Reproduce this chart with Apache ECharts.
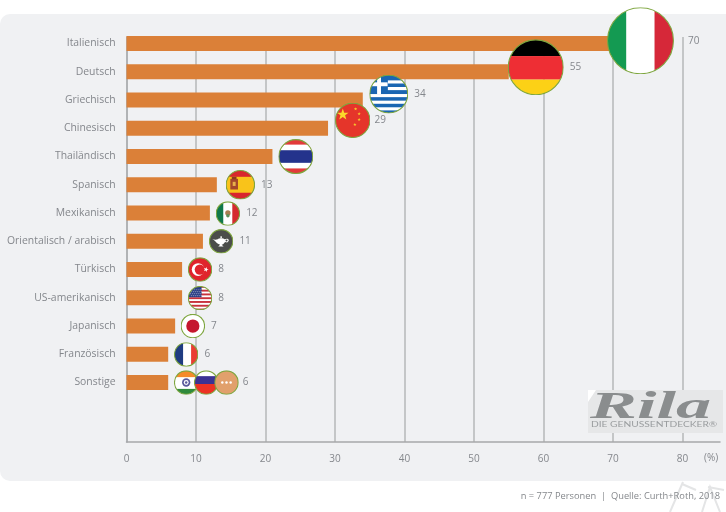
<!DOCTYPE html>
<html>
<head>
<meta charset="utf-8">
<style>html,body{margin:0;padding:0;background:#fff}#c{width:726px;height:512px}</style>
<script src="https://cdn.jsdelivr.net/npm/echarts@6/dist/echarts.min.js"></script>
</head>
<body>
<div id="c"></div>
<script>
const categories = ['Italienisch','Deutsch','Griechisch','Chinesisch','Thailändisch','Spanisch','Mexikanisch','Orientalisch / arabisch','Türkisch','US-amerikanisch','Japanisch','Französisch','Sonstige',' ',' '];
const values = [70,55,34,29,21,13,12,11,8,8,7,6,6];
const valueLabels = ['70','55','34','29','','13','12','11','8','8','7','6','6'];
const xTicks = [0,10,20,30,40,50,60,70,80];

const TEXT = '#84878c', FONT = '"Open Sans"';

function star(cx, cy, r, rot) {
  let p = [];
  for (let i = 0; i < 10; i++) {
    const a = (rot || 0) - Math.PI / 2 + i * Math.PI / 5, q = i % 2 ? r * 0.4 : r;
    p.push((cx + q * Math.cos(a)).toFixed(2) + ',' + (cy + q * Math.sin(a)).toFixed(2));
  }
  return '<polygon points="' + p.join(' ') + '"';
}
function R(x, y, w, h, f) { return `<rect x="${x}" y="${y}" width="${w}" height="${h}" fill="${f}"/>`; }
function C(x, y, r, f) { return `<circle cx="${x}" cy="${y}" r="${r}" fill="${f}"/>`; }

function usa() {
  let s = R(-50,-50,100,100,'#fff');
  for (let i = 0; i < 7; i++) s += R(-50,-50 + i * 15.4,100,7.7,'#c8323c');
  s += R(-50,-50,56,46,'#2b3f86');
  for (let r = 0; r < 4; r++) for (let c = 0; c < 6; c++) s += C(-40 + c * 8 + (r % 2) * 4, -34 + r * 8, 1.8, '#fff');
  return s;
}
function greece() {
  let s = R(-50,-50,100,100,'#1a66b2');
  s += R(-3,-35,60,8,'#fff') + R(-3,-18,60,8,'#fff') + R(-50,0,100,8,'#fff') + R(-50,17,100,8,'#fff') + R(-50,34,100,8,'#fff');
  s += R(-50,-50,47,50,'#1a66b2') + R(-30,-50,10,50,'#fff') + R(-50,-30,47,10,'#fff');
  return s;
}
function lamp() {
  return R(-50,-50,100,100,'#4b4d4a') +
    '<path d="M-36,-8 C-26,-6 -20,-6 -14,-8 C-8,-14 8,-14 14,-8 C30,-16 38,-2 24,5 L16,3 C12,10 6,13 2,14 L10,21 L-12,21 L-4,14 C-14,12 -20,4 -24,0 C-28,-4 -32,-6 -36,-8 Z" fill="#fff"/>' +
    C(22,-3,4,'#4b4d4a') + C(0,-17,4,'#fff');
}
const flags = {
  it: R(-50,-50,29,100,'#149a52') + R(-21,-50,42,100,'#fff') + R(21,-50,29,100,'#d62839'),
  de: R(-50,-50,100,30,'#000') + R(-50,-20,100,42,'#ee2e34') + R(-50,22,100,28,'#fcd116'),
  gr: greece(),
  cn: R(-50,-50,100,100,'#e5352a') + star(-28,-16,17) + ' fill="#fbd92b"/>' + star(8,-32,5) + ' fill="#f7c92b"/>' + star(18,-18,5) + ' fill="#f7c92b"/>' + star(18,-2,5) + ' fill="#f7c92b"/>' + star(6,12,5) + ' fill="#f7c92b"/>',
  th: R(-50,-50,100,100,'#e23a3a') + R(-50,-34,100,68,'#fff') + R(-50,-18,100,36,'#24338c'),
  es: R(-50,-50,100,100,'#d8262d') + R(-50,-27,100,54,'#f9c31a') + R(-34,-20,26,36,'#a5472b') + R(-29,-27,16,8,'#8c3a20') + R(-26,-10,10,14,'#e8b04a'),
  mx: R(-50,-50,32,100,'#10784a') + R(-18,-50,36,100,'#fff') + R(18,-50,32,100,'#d52b2f') + C(0,-2,11,'#a97e52') + C(0,9,7,'#5e8f5a'),
  lamp: lamp(),
  tr: R(-50,-50,100,100,'#e0242c') + C(-8,0,26,'#fff') + C(-1,0,21,'#e0242c') + star(24,0,11,Math.PI / 2) + ' fill="#fff"/>',
  us: usa(),
  jp: R(-50,-50,100,100,'#fff') + C(0,0,27,'#c5172f'),
  fr: R(-50,-50,38,100,'#1f3c82') + R(-12,-50,32,100,'#fff') + R(20,-50,30,100,'#ea3d33'),
  in: R(-50,-50,100,100,'#fff') + R(-50,-50,100,28,'#f58a2a') + R(-50,26,100,24,'#2f8a3c') + C(0,0,17,'#5a5a9c') + C(0,0,10,'#fff') + C(0,0,5,'#5a5a9c'),
  ru: R(-50,-50,100,100,'#fff') + R(-50,-26,100,32,'#3b3293') + R(-50,6,100,44,'#ec3224'),
  etc: R(-50,-50,100,100,'#e1a06c') + C(-17,0,5,'#fff') + C(0,0,5,'#fff') + C(17,0,5,'#fff')
};
function flagUri(key, size) {
  const sw = 1.1 * 100 / size;
  const svg = `<svg xmlns="http://www.w3.org/2000/svg" width="240" height="240" viewBox="-50 -50 100 100"><defs><clipPath id="k"><circle r="${50 - sw / 2}"/></clipPath></defs><g clip-path="url(#k)">${flags[key]}</g><circle r="${50 - sw / 2}" fill="none" stroke="#7ea63f" stroke-width="${sw}"/></svg>`;
  return 'image://data:image/svg+xml;charset=utf-8,' + encodeURIComponent(svg);
}

// placement of each round flag relative to the end of its bar: row, key, diameter, offset, label gap
const flagLayout = [
  [0,'it',67,27.5,-2.8,14],[1,'de',56,27,-4.5,6],[2,'gr',39,26,-6,6],[3,'cn',35.5,24.7,-8,4],
  [4,'th',35,23.4,0,0],[5,'es',29.5,23.5,0,6],[6,'mx',24.5,18,0.5,6],[7,'lamp',24.5,18.2,0,6],
  [8,'tr',24.5,18,0,6],[9,'us',24.5,18,0.4,6],[10,'jp',24.5,17.7,0,6],[11,'fr',24.5,18,0.2,6],
  [12,'in',24.5,18,0,-1],[12,'ru',24.5,38,0,-1],[12,'etc',24.5,58.3,0,4]
];
const flagData = flagLayout.map(([row,key,size,dx,dy,gap]) => ({
  value: [values[row], categories[row]],
  symbol: flagUri(key, size),
  symbolSize: size,
  symbolOffset: [dx, dy],
  label: gap > 0 ? { show: true, position: 'right', distance: gap, formatter: valueLabels[row], color: TEXT, fontSize: 10, fontFamily: FONT } : { show: false }
}));

const LEFT = 126.5, WIDTH = 593.5, XMAX = 85.4;
const chart = echarts.init(document.getElementById('c'), null, { renderer: 'canvas' });
chart.setOption({
  animation: false,
  backgroundColor: '#fff',
  grid: [
    { left: LEFT, width: WIDTH, top: 29.4, height: 423.75 },
    { left: LEFT, width: WIDTH, top: 37, height: 405 }
  ],
  xAxis: [
    { gridIndex: 0, type: 'value', min: 0, max: XMAX, show: false },
    { gridIndex: 1, type: 'value', min: 0, max: XMAX, interval: 10, position: 'bottom',
      axisLine: { show: true, onZero: false, lineStyle: { color: '#a6a8ab', width: 1.5 } },
      axisTick: { show: false },
      splitLine: { show: true, showMaxLine: false, showMinLine: false, lineStyle: { color: '#b6b7b9', width: 1.5 } },
      axisLabel: { show: true, showMaxLabel: false, margin: 12, color: TEXT, fontSize: 10, fontFamily: FONT,
        formatter: v => xTicks.includes(v) ? String(v) : '' } }
  ],
  yAxis: [
    { gridIndex: 0, type: 'category', inverse: true, data: categories,
      axisLine: { show: false }, axisTick: { show: false }, splitLine: { show: false },
      axisLabel: { margin: 11, color: TEXT, fontSize: 10.4, fontFamily: FONT } },
    { gridIndex: 1, type: 'value', min: 0, max: 1,
      axisLine: { show: true, onZero: false, lineStyle: { color: '#9c9ea1', width: 1.5 } },
      axisTick: { show: false }, axisLabel: { show: false }, splitLine: { show: false } }
  ],
  series: [
    { type: 'bar', xAxisIndex: 0, yAxisIndex: 0, data: values, barWidth: 15, itemStyle: { color: '#db8038' }, z: 3 },
    { type: 'scatter', xAxisIndex: 0, yAxisIndex: 0, data: flagData, clip: false, z: 5, silent: true, itemStyle: { opacity: 1 } }
  ],
  graphic: [
    { type: 'rect', z: -10, silent: true, shape: { x: 0, y: 14, width: 740, height: 467, r: [10,0,0,10] }, style: { fill: '#f0f1f3' } },
    { type: 'polygon', z: 1, silent: true, shape: { points: [[588,390],[723,390],[723,433],[588,433]] }, style: { fill: '#e6e7e8' } },
    { type: 'polygon', z: 1, silent: true, shape: { points: [[588,390],[596,390],[588,402]] }, style: { fill: '#ffffff' } },
    { type: 'text', z: 2, silent: true, x: 590, y: 389, scaleX: 1.85, style: { text: 'Rila', fill: '#8a8d8e', font: 'italic bold 38px "Liberation Serif"' } },
    { type: 'text', z: 2, silent: true, x: 591, y: 421, scaleX: 1.36, style: { text: 'DIE GENUSSENTDECKER®', fill: '#9a9d9f', font: '7.5px Lato' } },
    { type: 'text', z: 2, silent: true, x: 704, y: 453, style: { text: '(%)', fill: TEXT, font: '10px "Open Sans"' } },
    { type: 'text', z: 2, silent: true, x: 720, y: 492, style: { text: 'n = 777 Personen  |  Quelle: Curth+Roth, 2018', fill: '#85888c', align: 'right', font: '9.3px "Open Sans"' } },
    { type: 'polyline', z: 0, silent: true, shape: { points: [[683,482],[670,512]] }, style: { stroke: '#e4e5e6', lineWidth: 2, fill: null } },
    { type: 'polyline', z: 0, silent: true, shape: { points: [[682,484],[696,490]] }, style: { stroke: '#e4e5e6', lineWidth: 2, fill: null } },
    { type: 'polyline', z: 0, silent: true, shape: { points: [[702,512],[710,487],[720,512]] }, style: { stroke: '#e4e5e6', lineWidth: 2, fill: null } },
    { type: 'polyline', z: 0, silent: true, shape: { points: [[708,487],[724,490]] }, style: { stroke: '#e4e5e6', lineWidth: 2, fill: null } }
  ]
});
</script>
</body>
</html>
